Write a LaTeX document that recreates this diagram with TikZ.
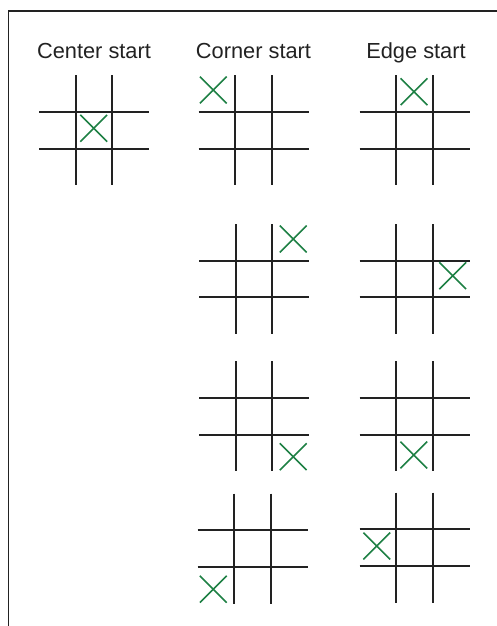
\documentclass[tikz,border=0pt]{standalone}
\usepackage{fontspec}
\setmainfont{Liberation Sans}
\definecolor{xgreen}{RGB}{30,128,68}
\definecolor{gridk}{RGB}{34,34,34}
\begin{document}
\begin{tikzpicture}[x=1bp,y=-1bp,
  gridline/.style={draw=gridk,line width=1.9bp},
  xmark/.style={draw=xgreen,line width=1.6bp},
  head/.style={anchor=base,inner sep=0pt,font=\fontsize{21.8bp}{24bp}\selectfont,text=gridk},
  frameline/.style={draw=gridk,line width=1.4bp}]
\useasboundingbox (0,0) rectangle (497,626);
\coordinate (fA) at (8.5,626);
\coordinate (fB) at (8.5,11);
\coordinate (fC) at (497,11);
\draw[frameline] (fA) -- (fB) -- (fC);
\node[head] (h1) at (94,59) {Center start};
\node[head] (h2) at (253.5,59) {Corner start};
\node[head] (h3) at (416,59) {Edge start};
% grid macro
\newcommand{\tttgrid}[3]{%
  \begin{scope}[shift={(#1,#2)}]
    \coordinate (#3v1a) at (-18.3,-55);
    \coordinate (#3v1b) at (-18.3,55);
    \coordinate (#3v2a) at (18.3,-55);
    \coordinate (#3v2b) at (18.3,55);
    \coordinate (#3h1a) at (-55,-18.3);
    \coordinate (#3h1b) at (55,-18.3);
    \coordinate (#3h2a) at (-55,18.3);
    \coordinate (#3h2b) at (55,18.3);
    \draw[gridline] (#3v1a) -- (#3v1b);
    \draw[gridline] (#3v2a) -- (#3v2b);
    \draw[gridline] (#3h1a) -- (#3h1b);
    \draw[gridline] (#3h2a) -- (#3h2b);
  \end{scope}}
\newcommand{\xmk}[3]{%
  \begin{scope}[shift={(#1,#2)}]
    \coordinate (#3a) at (-13.4,-13.4);
    \coordinate (#3b) at (13.4,13.4);
    \coordinate (#3c) at (-13.4,13.4);
    \coordinate (#3d) at (13.4,-13.4);
    \draw[xmark] (#3a) -- (#3b);
    \draw[xmark] (#3c) -- (#3d);
  \end{scope}}
% column 1
\tttgrid{94}{130.3}{ga}
\xmk{93.7}{128.3}{xa}
% column 2
\tttgrid{253.5}{130.3}{gb}
\xmk{213.3}{90}{xb}
\tttgrid{254}{279}{gc}
\xmk{293.2}{239}{xc}
\tttgrid{254}{416.3}{gd}
\xmk{293.2}{456.7}{xd}
\tttgrid{252.5}{548.5}{ge}
\xmk{213.3}{589.2}{xe}
% column 3
\tttgrid{414.5}{130.3}{gf}
\xmk{414}{91.7}{xf}
\tttgrid{414.5}{279}{gg}
\xmk{452.7}{275.7}{xg}
\tttgrid{414.5}{416.3}{gh}
\xmk{413.8}{455}{xh}
\tttgrid{414.5}{547.5}{gi}
\xmk{376.8}{546}{xi}
\end{tikzpicture}
\end{document}
